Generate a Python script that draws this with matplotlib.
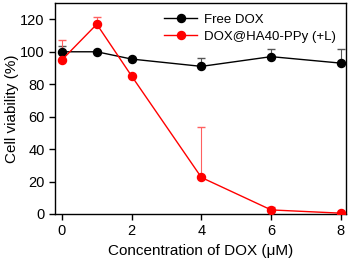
import matplotlib.pyplot as plt

plt.rcParams['font.family'] = ['Liberation Sans', 'DejaVu Sans']

conc = [0, 1, 2, 4, 6, 8]
free_dox = [100, 100, 95.5, 91, 97, 93]
free_dox_err = [3.5, 0.5, 0.8, 5, 4.5, 9]
dox_ppy = [95, 117, 85, 22.5, 2.5, 0.5]
dox_ppy_err = [12, 4.7, 0.5, 31, 2, 0.3]

fig = plt.figure(figsize=(3.5, 2.6), dpi=100)
ax = fig.add_axes([0.157, 0.177, 0.832, 0.811])

ax.errorbar(conc, free_dox, yerr=[[0]*6, free_dox_err], fmt='none',
            elinewidth=0.8, ecolor='#555555', capsize=3, zorder=2)
ax.errorbar(conc, dox_ppy, yerr=[[0]*6, dox_ppy_err], fmt='none',
            elinewidth=0.8, ecolor='#ff6060', capsize=3, zorder=2)
h1, = ax.plot(conc, free_dox, color='black', marker='o', markersize=5.8,
              linewidth=1, label='Free DOX', zorder=3)
h2, = ax.plot(conc, dox_ppy, color='#ff0000', marker='o', markersize=5.8,
              linewidth=1, label='DOX@HA40-PPy (+L)', zorder=4)

ax.set_xlim(-0.2, 8.15)
ax.set_ylim(0, 130)
ax.set_xticks([0, 2, 4, 6, 8])
ax.set_yticks([0, 20, 40, 60, 80, 100, 120])
ax.tick_params(labelsize=10.5, length=4, width=1, direction='out')
ax.set_xlabel('Concentration of DOX (\u03bcM)', fontsize=11)
ax.set_ylabel('Cell viability (%)', fontsize=11, labelpad=1)
for s in ax.spines.values():
    s.set_linewidth(1)

ax.legend(handles=[h1, h2], loc='upper right', frameon=False, fontsize=9.5,
          handlelength=2.5, borderaxespad=0.4, labelspacing=0.35, handletextpad=0.5)

fig.savefig('out.png', dpi=100)
